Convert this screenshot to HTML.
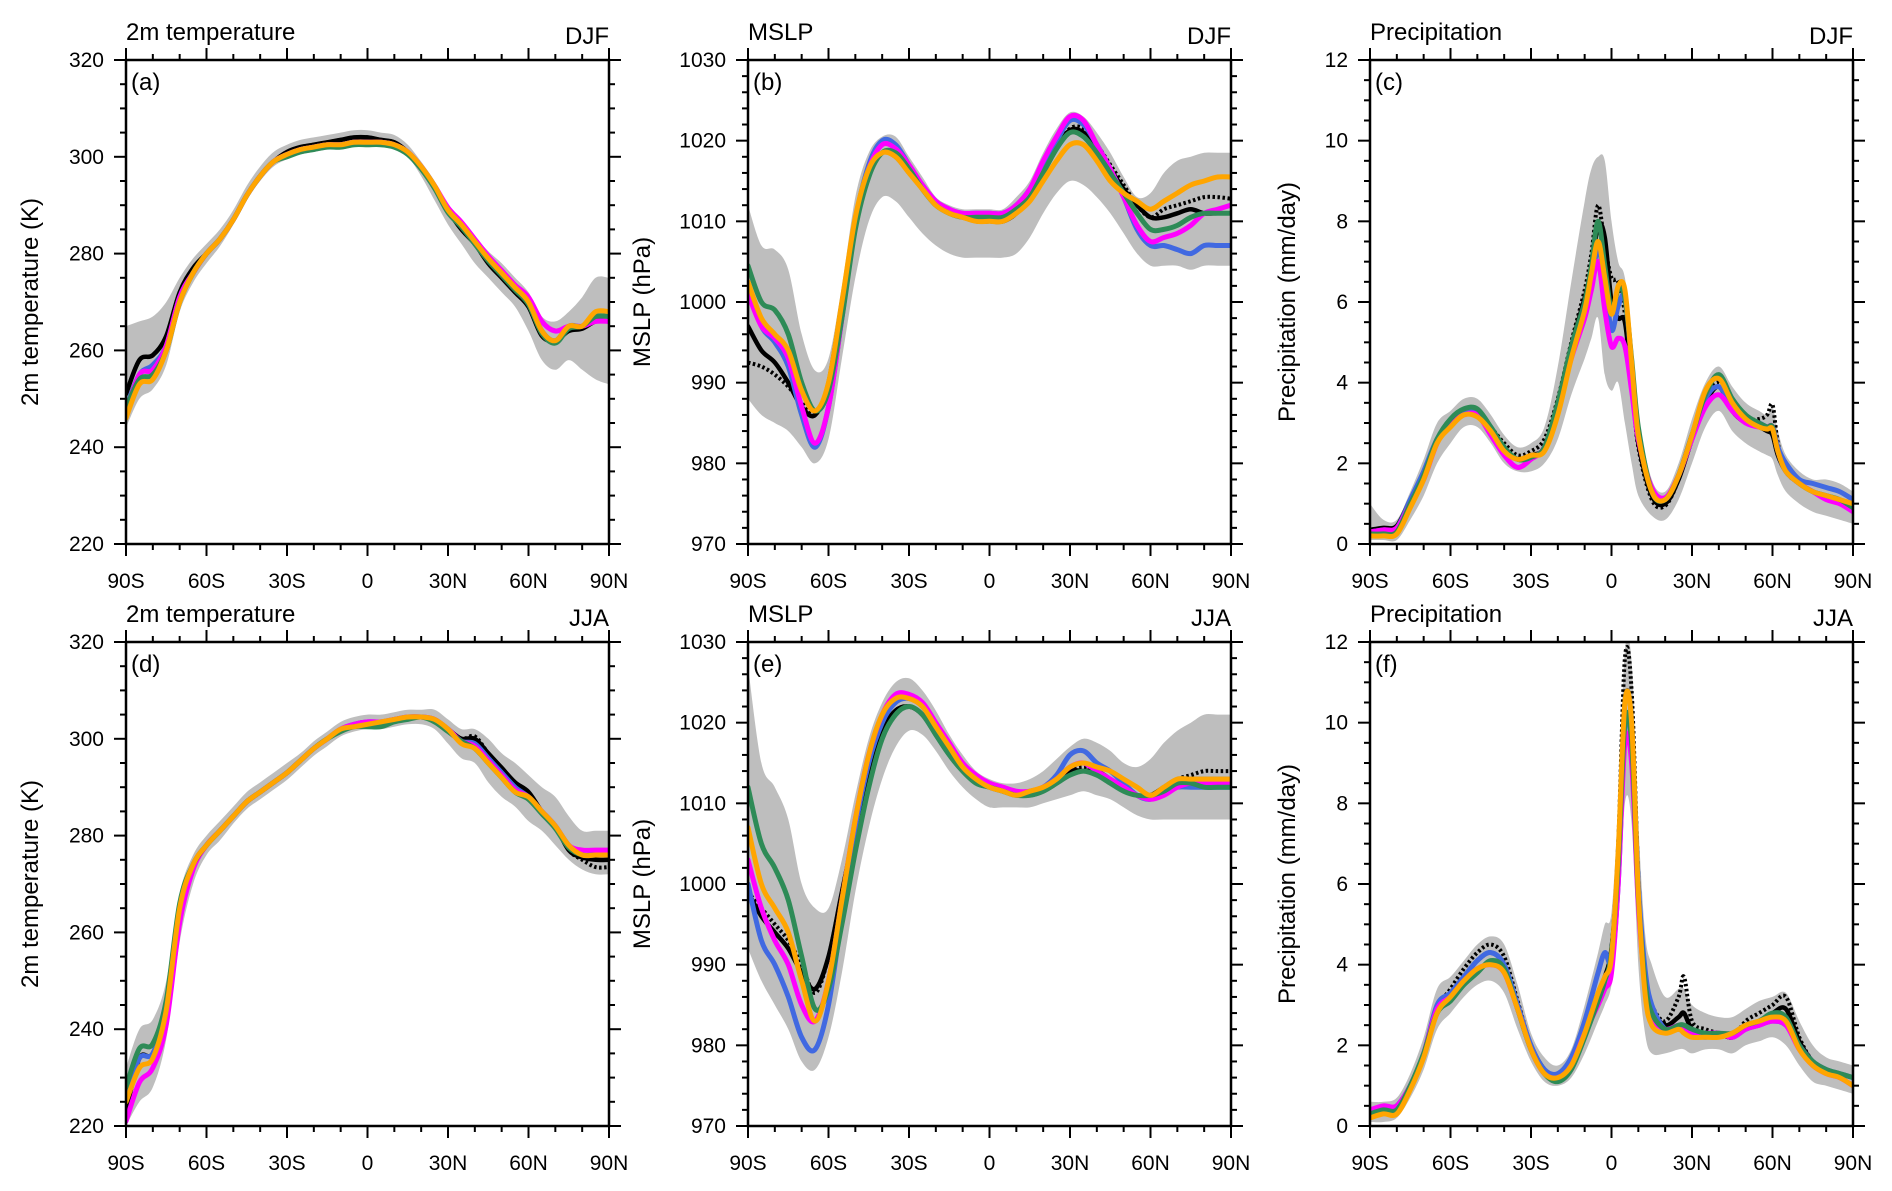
<!DOCTYPE html>
<html><head><meta charset="utf-8">
<style>
html,body{margin:0;padding:0;background:#fff;}
svg{display:block;font-family:"Liberation Sans",Arial,sans-serif;}
</style></head>
<body>
<svg id="fig" width="1892" height="1191" viewBox="0 0 1892 1191" xmlns="http://www.w3.org/2000/svg"></svg>
<script>
// ---------- DATA ----------
const latStd = [-90,-85,-80,-75,-70,-65,-60,-55,-50,-45,-40,-35,-30,-25,-20,-15,-10,-5,0,5,10,15,20,25,30,35,40,45,50,55,60,65,70,75,80,85,90];
const latPrDJF = [-90,-85,-80,-75,-70,-65,-60,-55,-50,-45,-40,-35,-30,-25,-20,-15,-10,-7.5,-5,-2.5,0,2.5,5,7.5,10,15,20,25,30,35,40,45,50,55,58,60,62,65,70,75,80,85,90];
const latPrJJA = [-90,-85,-80,-75,-70,-65,-60,-55,-50,-45,-40,-35,-30,-25,-20,-15,-10,-5,-2.5,0,2.5,5,7.5,10,12.5,15,20,25,27,30,35,40,45,50,55,60,65,70,75,80,85,90];
const xTickLabels = ["90S","60S","30S","0","30N","60N","90N"];
const xTickValues = [-90,-60,-30,0,30,60,90];

// (a) T2m DJF
const aBandHi = [265,266,267,270,275,279,282,285,289,294,298,301,302.5,303.5,304,304.5,305,305.5,305.5,305,304.5,302.5,299,295,290,286.5,283.5,280.5,278,275,272,267,266,268,271,275,275];
const aBandLo = [244,250,252,257,268,274,278,281.5,286,291,295,298,299.5,300.5,301,301.5,301.5,302,302,302,301.5,300,296,291,286,282,278,275,272,269,264,258,256,258,256,254,253];
const aObs = [251,258,259,263,272,277,280,283,287,292,296,299,301,302,302.5,303,303.5,304,304,303.5,303,301,298,294,289,285,282,278,275,272,269,263,262,264,264.5,266,266];
const aBlack = [251,258,259,263,272,277,280,283,287,292,296,299,301,302,302.5,303,303.5,304,304,303.5,303,301,298,294,289,285,282,278,275,272,269,263,262,264,264.5,266,266];
const aBlue = [248,255,257,261,271,276,280,283,287,292,296,299,300.5,301.5,302,302.5,302.5,303,303,303,302.5,301,298,294,289,286,282.5,279,276,273,270,264,262,265,265,267,267];
const aMagenta = [247,255,256,261,271,276,280,283,287,292,296,299,300.5,301.5,302,302.5,302.5,303,303,303,302.5,301,298,294,289.5,286.5,283,279.5,276.5,273.5,271,266,264,265,265,266,266];
const aGreen = [248,254,255,260,270,276,280,283,287,292,296,299,300,301,301.5,302,302,302.5,302.5,302.5,302,300.5,297.5,293.5,288.5,285.5,282,278.5,275.5,272.5,269.5,263.5,261.5,264.5,265,267,267];
const aOrange = [246,253,254,260,270,276,280,283,287,292,296,299,300.5,301.5,302,302.5,302.5,303,303,303,302.5,301,298,294,289,286,282.5,279,276,273,270,264,262,265,265,268,268];

// (d) T2m JJA
const dBandHi = [232,240,242,250,268,276,280,283,286,289,291,293,295,297,299.5,301.5,303.5,304.5,305,305,305.5,306,306,306,304,302,302,300,297,295,292.5,290,288,284,281,281,281];
const dBandLo = [220,225,228,238,258,270,276,279,282.5,285.5,287.5,289.5,291.5,294,296.5,298.5,300.5,301.5,302,302,302.5,303,303,302,299,296,295,291,288,286,283,281,278,275,273,272,272];
const dObs = [223,234,235,245,265,274,278,281,284,287,289,291,293,295.5,298,300,302,303,303.5,303.5,304,304.5,304.5,304,302,300,300.5,297,294,291,289,285,282,277,275,273.5,273.5];
const dBlack = [223,234,235,245,265,274,278,281,284,287,289,291,293,295.5,298,300,302,303,303.5,303.5,304,304.5,304.5,304,302,300,300,297,294,291,289,285,282,277,275.5,275,275];
const dBlue = [226,234,235,244,265,274,278,281,284,287,289,291,293,295.5,298,300,302,303,303.5,303.5,304,304.5,304.5,304,302,299.5,299,296,293,290,288,285,282,278,276,276,276];
const dMagenta = [221,229,232,241,262,273,278,281,284,287,289,291,293,295.5,298,300,302,303,303.5,303.5,304,304.5,304.5,304,302,299.5,298.5,295.5,292.5,289.5,288,285,282,278,277,277,277];
const dGreen = [228,236,237,246,266,274,278,281,284,287,289,291,293,295.5,298,300,301.5,302.5,302.5,302.5,303.5,304,304.5,303.5,301.5,299.5,298,295,292,289,287.5,284.5,281.5,277.5,276,276,276];
const dOrange = [225,232,234,244,265,274,278,281,284,287,289,291,293,295.5,298,300,302,302.5,303,303.5,304,304.5,304.5,304,302,299,298,295,292,289,288,285,282,278,276,276,276];

// (b) MSLP DJF
const bBandHi = [1012,1007,1006.5,1004,996,991.5,993,1002,1013,1018.5,1020.5,1020.5,1018,1015.5,1013,1012,1011.5,1011.5,1011.5,1011.5,1013,1015,1018.5,1021.5,1023.5,1023,1021,1018.5,1015.5,1013,1013.5,1016,1017.5,1018,1018.5,1018.5,1018.5];
const bBandLo = [988,986,985,984,982,980,983,993,1003,1010,1013,1012.5,1010.5,1008.5,1007,1006,1005.5,1005.5,1005.5,1005.5,1006,1008,1011,1013.5,1015,1014.5,1013,1011,1008.5,1006,1004.5,1004.5,1004.5,1004,1004.5,1004.5,1004.5];
const bObs = [992.5,992,991,989.5,987.5,986,990,1000,1010,1016,1018.5,1018,1016,1014,1012,1011,1010.5,1010,1010,1010,1011,1013,1016,1019,1021.5,1021.5,1019.5,1017,1014.5,1012,1010.5,1011.5,1012,1012.5,1013,1013,1012.8];
const bBlack = [997,994,992.5,990,987,986,990,1000,1010,1016,1018.5,1018,1016,1014,1012,1011,1010.5,1010,1010,1010,1011,1013,1016,1019,1021.3,1021,1019,1016.5,1014,1012,1010.5,1010.5,1011,1011.5,1011,1011,1011];
const bBlue = [1002,997,995,992,986,982,987,998,1010,1017,1020,1019.5,1017,1014.5,1012.5,1011.5,1011,1011,1011,1011,1012,1014,1017,1020,1022.5,1022,1019.5,1016.5,1013,1009,1007,1007,1006.5,1006,1007,1007,1007];
const bMagenta = [1001,997,995.5,993,987,982.5,987,998,1010,1016.5,1019.5,1019,1017,1014.5,1012.5,1011.5,1011,1011,1011,1011,1012,1014,1017.5,1020.5,1023,1022.5,1019.5,1016.5,1013,1009.5,1007.5,1008,1008.5,1009.5,1011,1011.5,1012];
const bGreen = [1004.5,1000,999,996,990,986.5,989,998,1009,1015.5,1018.5,1018.5,1016.5,1014,1012,1011,1010.5,1010.5,1010.5,1010.5,1011.5,1013,1016,1019,1021,1020.5,1018.5,1016,1013.5,1011,1009,1009,1009.5,1010.5,1011,1011,1011];
const bOrange = [1002.5,998,996,994,989,986.5,990,1000,1010.5,1016.5,1018.5,1018,1016,1014,1012,1011,1010.5,1010,1010,1010,1011,1012.5,1015,1017.5,1019.5,1019.5,1017.5,1015,1013.5,1012.5,1011.5,1012.5,1013.5,1014.5,1015,1015.5,1015.5];

// (e) MSLP JJA
const eBandHi = [1027,1015,1012,1008,1000,997,997,1003,1011,1018,1022.5,1025,1025.5,1024,1021.5,1018.5,1016,1014,1013,1012.5,1012.5,1013,1014,1015.5,1017,1018,1017.5,1016.5,1015,1014.5,1015.5,1017.5,1019,1020,1021,1021,1021];
const eBandLo = [992,988,985,982,978,977,981,989,999,1007,1013,1017,1019,1018.5,1016.5,1014,1012,1010.5,1009.5,1009.5,1009.5,1009.5,1010,1010.5,1011,1011.5,1011,1010.5,1009.5,1008.5,1008,1008,1008,1008,1008,1008,1008];
const eObs = [999,997,995,993,990,986.5,991,999,1007,1014,1019,1021.5,1022,1021,1018.5,1016,1014,1012.5,1012,1011.5,1011,1011,1011.5,1012.5,1014,1014.5,1014,1013,1012,1011,1011,1012,1013,1013.5,1014,1014,1014];
const eBlack = [999,996,994,992,989,987,991,999,1007,1014,1019,1021.5,1022,1021,1018.5,1016,1014,1012.5,1012,1011.5,1011,1011,1011.5,1012.5,1014,1014,1014,1013,1012,1011,1011,1012,1013,1013,1013,1013,1013];
const eBlue = [1000,993,990,986,981,979.5,985,996,1007,1015,1020,1022.5,1023,1022,1019.5,1017,1014.5,1013,1012,1011.5,1011,1011.5,1012,1013.5,1016,1016.5,1015,1014,1012.5,1011,1010.5,1011.5,1012,1012,1012,1012,1012];
const eMagenta = [1003,997,993,990,985,983,988,998,1008,1016,1021,1023.5,1023.5,1022.5,1020,1017.5,1015,1013.5,1012.5,1012,1011.5,1011.5,1012,1013,1014.5,1015,1014,1013,1012,1011,1010.5,1011,1012,1012.5,1012.5,1012.5,1012.5];
const eGreen = [1012,1005,1002,998,991,984.5,987,995,1004,1012,1018,1021,1022,1021,1018.5,1016,1014,1012.5,1012,1011.5,1011,1011,1011.5,1012.5,1013.5,1014,1013.5,1012.5,1011.5,1011,1011,1011.5,1012.5,1012.5,1012,1012,1012];
const eOrange = [1007,1000,997,994,988,983,988,998,1008,1016,1021,1023,1023,1022,1019.5,1017,1014.5,1013,1012,1011.5,1011,1011.5,1012,1013,1014.5,1015,1014.5,1014,1013,1012,1011,1012,1013,1013,1013,1013,1013];

// (c) Precip DJF
const cBandHi = [1.0,0.6,0.6,1.3,2.1,3.0,3.3,3.6,3.6,3.2,2.7,2.4,2.5,2.9,4.4,6.5,8.5,9.3,9.6,9.5,8.0,7.0,6.6,5.0,3.2,1.6,1.3,2.0,3.1,4.0,4.4,3.9,3.5,3.3,3.2,3.4,2.8,2.2,1.8,1.6,1.6,1.5,1.3];
const cBandLo = [0.1,0.1,0.1,0.6,1.2,2.0,2.5,2.9,2.9,2.5,2.0,1.8,1.8,2.0,2.6,3.7,4.6,5.1,5.6,4.2,3.8,4.0,3.0,2.0,1.2,0.7,0.6,1.1,2.0,2.9,3.3,2.8,2.5,2.3,2.2,2.1,1.7,1.3,1.0,0.8,0.7,0.6,0.5];
const cObs = [0.3,0.35,0.45,1.1,1.7,2.6,3.0,3.35,3.3,2.9,2.5,2.2,2.3,2.6,3.6,5.0,6.3,7.2,8.4,7.4,6.6,6.5,5.7,4.0,2.4,1.1,0.95,1.6,2.7,3.6,4.0,3.4,3.1,3.1,3.2,3.45,2.5,1.8,1.5,1.3,1.2,1.1,1.0];
const cBlack = [0.35,0.4,0.45,1.1,1.7,2.6,3.0,3.3,3.3,2.9,2.4,2.1,2.2,2.4,3.5,4.9,6.1,6.8,7.9,7.6,6.0,5.6,5.5,4.0,2.5,1.2,1.0,1.6,2.6,3.5,3.9,3.3,3.0,2.9,2.8,2.7,2.2,1.8,1.5,1.3,1.2,1.1,1.0];
const cBlue = [0.3,0.35,0.4,1.1,1.8,2.6,3.0,3.3,3.3,2.8,2.3,2.1,2.15,2.4,3.4,4.7,5.8,6.5,7.3,6.5,5.3,5.9,6.1,4.5,2.8,1.3,1.1,1.7,2.7,3.6,3.9,3.4,3.1,3.0,2.9,2.9,2.4,2.0,1.6,1.5,1.4,1.3,1.1];
const cMagenta = [0.3,0.35,0.4,1.0,1.6,2.5,3.0,3.2,3.2,2.7,2.2,1.9,2.1,2.4,3.4,4.6,5.6,6.3,7.0,5.8,4.9,5.1,4.9,3.8,2.6,1.4,1.15,1.7,2.6,3.4,3.7,3.3,3.0,2.9,2.9,2.9,2.3,1.8,1.5,1.3,1.1,1.0,0.8];
const cGreen = [0.25,0.25,0.3,1.0,1.7,2.6,3.1,3.35,3.35,2.9,2.4,2.1,2.15,2.4,3.5,4.9,6.0,6.9,8.0,6.9,5.8,6.3,6.1,4.6,2.9,1.3,1.1,1.7,2.7,3.7,4.2,3.6,3.2,3.0,2.9,2.9,2.3,1.8,1.5,1.3,1.2,1.1,0.9];
const cOrange = [0.2,0.2,0.25,0.9,1.6,2.5,2.9,3.2,3.15,2.8,2.3,2.1,2.2,2.3,3.2,4.6,5.8,6.7,7.5,6.6,5.7,6.4,6.3,4.5,2.7,1.3,1.1,1.7,2.7,3.8,4.1,3.5,3.1,2.9,2.85,2.85,2.3,1.8,1.5,1.3,1.2,1.1,1.0];

// (f) Precip JJA
const fBandHi = [0.6,0.6,0.7,1.3,2.2,3.4,3.7,4.1,4.5,4.7,4.5,3.5,2.3,1.7,1.5,1.9,3.0,4.3,5.0,5.3,8.0,11.8,11.5,7.5,4.8,4.0,3.2,3.4,3.4,3.0,2.8,2.7,2.7,2.9,3.1,3.2,3.3,2.6,2.0,1.7,1.6,1.5];
const fBandLo = [0.1,0.1,0.2,0.7,1.4,2.4,2.8,3.2,3.5,3.6,3.3,2.4,1.6,1.1,1.0,1.2,1.8,2.6,3.0,3.5,5.0,8.0,7.5,4.0,2.3,1.8,1.8,1.9,1.9,1.8,1.9,1.9,1.8,2.0,2.1,2.2,2.0,1.5,1.1,1.0,0.9,0.8];
const fObs = [0.3,0.4,0.5,1.0,1.8,2.9,3.4,3.9,4.3,4.5,4.2,3.1,2.0,1.4,1.2,1.5,2.3,3.3,3.7,4.4,7.0,11.6,10.8,6.2,3.7,3.0,2.6,3.2,3.7,2.6,2.4,2.3,2.2,2.6,2.8,3.0,3.2,2.2,1.6,1.4,1.3,1.2];
const fBlack = [0.3,0.4,0.5,1.0,1.8,2.9,3.3,3.7,4.1,4.3,4.0,3.0,2.0,1.4,1.2,1.5,2.3,3.3,3.7,4.4,6.5,10.5,10.0,6.0,3.7,2.9,2.5,2.7,2.8,2.4,2.3,2.3,2.2,2.5,2.6,2.8,2.9,2.1,1.6,1.4,1.3,1.2];
const fBlue = [0.4,0.4,0.5,1.0,1.8,3.0,3.3,3.7,4.1,4.3,4.0,3.0,2.0,1.4,1.3,1.7,2.6,3.8,4.3,4.1,6.0,9.8,9.6,6.0,3.9,3.0,2.4,2.4,2.4,2.3,2.2,2.3,2.2,2.4,2.5,2.6,2.5,2.0,1.6,1.4,1.3,1.2];
const fMagenta = [0.4,0.5,0.5,1.0,1.8,2.9,3.2,3.6,3.9,4.0,3.8,2.9,1.9,1.3,1.2,1.5,2.3,3.0,3.4,3.8,6.0,9.5,9.0,5.5,3.5,2.7,2.4,2.5,2.4,2.3,2.3,2.3,2.2,2.4,2.5,2.6,2.5,1.9,1.5,1.3,1.2,1.0];
const fGreen = [0.3,0.4,0.4,1.0,1.8,2.8,3.1,3.5,3.8,4.1,3.9,2.9,1.9,1.3,1.1,1.4,2.2,3.1,3.6,4.3,6.5,10.0,9.5,5.7,3.6,2.8,2.4,2.5,2.5,2.4,2.3,2.3,2.3,2.5,2.6,2.8,2.7,2.0,1.6,1.4,1.3,1.2];
const fOrange = [0.2,0.3,0.3,0.9,1.7,2.8,3.2,3.6,3.9,4.0,3.8,2.9,1.9,1.3,1.2,1.5,2.3,3.3,3.7,4.2,6.8,10.5,10.0,5.8,3.3,2.5,2.3,2.4,2.3,2.2,2.2,2.2,2.3,2.5,2.6,2.7,2.6,1.9,1.5,1.3,1.2,1.0];

// ---------- DRAWING ----------
const NS = "http://www.w3.org/2000/svg";
const svg = document.getElementById("fig");
function el(tag, attrs, parent) {
  const e = document.createElementNS(NS, tag);
  for (const k in attrs) e.setAttribute(k, attrs[k]);
  (parent || svg).appendChild(e);
  return e;
}
function smoothPath(pts) {
  let d = "M" + pts[0][0].toFixed(1) + "," + pts[0][1].toFixed(1);
  for (let i = 0; i < pts.length - 1; i++) {
    const p0 = pts[i - 1] || pts[i], p1 = pts[i], p2 = pts[i + 1], p3 = pts[i + 2] || p2;
    const c1x = p1[0] + (p2[0] - p0[0]) / 6, c1y = p1[1] + (p2[1] - p0[1]) / 6;
    const c2x = p2[0] - (p3[0] - p1[0]) / 6, c2y = p2[1] - (p3[1] - p1[1]) / 6;
    d += "C" + c1x.toFixed(1) + "," + c1y.toFixed(1) + " " + c2x.toFixed(1) + "," + c2y.toFixed(1) + " " + p2[0].toFixed(1) + "," + p2[1].toFixed(1);
  }
  return d;
}

const panels = [
  {id:"a", L:126, T:60, yoff:88, title:"2m temperature", season:"DJF", ylab:"2m temperature (K)", ymin:220, ymax:320, major:20, minor:5, ticks:[220,240,260,280,300,320], lat:latStd, hi:aBandHi, lo:aBandLo, obs:aObs, s:[aBlack,aBlue,aMagenta,aGreen,aOrange]},
  {id:"b", L:748, T:60, yoff:98, title:"MSLP", season:"DJF", ylab:"MSLP (hPa)", ymin:970, ymax:1030, major:10, minor:2, ticks:[970,980,990,1000,1010,1020,1030], lat:latStd, hi:bBandHi, lo:bBandLo, obs:bObs, s:[bBlack,bBlue,bMagenta,bGreen,bOrange]},
  {id:"c", L:1370, T:60, yoff:75, title:"Precipitation", season:"DJF", ylab:"Precipitation (mm/day)", ymin:0, ymax:12, major:2, minor:0.5, ticks:[0,2,4,6,8,10,12], lat:latPrDJF, hi:cBandHi, lo:cBandLo, obs:cObs, s:[cBlack,cBlue,cMagenta,cGreen,cOrange]},
  {id:"d", L:126, T:642, yoff:88, title:"2m temperature", season:"JJA", ylab:"2m temperature (K)", ymin:220, ymax:320, major:20, minor:5, ticks:[220,240,260,280,300,320], lat:latStd, hi:dBandHi, lo:dBandLo, obs:dObs, s:[dBlack,dBlue,dMagenta,dGreen,dOrange]},
  {id:"e", L:748, T:642, yoff:98, title:"MSLP", season:"JJA", ylab:"MSLP (hPa)", ymin:970, ymax:1030, major:10, minor:2, ticks:[970,980,990,1000,1010,1020,1030], lat:latStd, hi:eBandHi, lo:eBandLo, obs:eObs, s:[eBlack,eBlue,eMagenta,eGreen,eOrange]},
  {id:"f", L:1370, T:642, yoff:75, title:"Precipitation", season:"JJA", ylab:"Precipitation (mm/day)", ymin:0, ymax:12, major:2, minor:0.5, ticks:[0,2,4,6,8,10,12], lat:latPrJJA, hi:fBandHi, lo:fBandLo, obs:fObs, s:[fBlack,fBlue,fMagenta,fGreen,fOrange]}
];
const seriesColors = ["#000000","#4169e1","#ff00ff","#2e8b57","#ffa500"];
const seriesNames = ["model-black","model-blue","model-magenta","model-green","model-orange"];
const W = 483, H = 484;

panels.forEach(p => {
  const g = el("g", {});
  
  
  const R = p.L + W, B = p.T + H;
  const xs = v => p.L + (v + 90) / 180 * W;
  const ys = v => B - (v - p.ymin) / (p.ymax - p.ymin) * H;
  const clipId = "clip" + p.id;
  const cp = el("clipPath", {id: clipId}, g);
  el("rect", {x: p.L, y: p.T, width: W, height: H}, cp);
  const plot = el("g", {"clip-path": "url(#" + clipId + ")"}, g);

  const top = p.lat.map((v, i) => [xs(v), ys(p.hi[i])]);
  const bot = p.lat.map((v, i) => [xs(v), ys(p.lo[i])]).reverse();
  const bd = smoothPath(top) + "L" + smoothPath(bot).slice(1) + "Z";
  const band = el("path", {d: bd, fill: "#bebebe", stroke: "none"}, plot);
  
  

  const obsP = el("path", {d: smoothPath(p.lat.map((v, i) => [xs(v), ys(p.obs[i])])), fill: "none", stroke: "#000", "stroke-width": 4, "stroke-dasharray": "2.5,2.5"}, plot);
  
  

  p.s.forEach((arr, k) => {
    const ln = el("path", {d: smoothPath(p.lat.map((v, i) => [xs(v), ys(arr[i])])), fill: "none", stroke: seriesColors[k], "stroke-width": k === 0 ? 4.5 : 5, "stroke-linejoin": "round", "stroke-linecap": "round"}, plot);
    
    
  });

  el("rect", {x: p.L, y: p.T, width: W, height: H, fill: "none", stroke: "#000", "stroke-width": 2.5}, g);

  for (let v = -90; v <= 90; v += 10) {
    const isMaj = v % 30 === 0, len = isMaj ? 12 : 6, x = xs(v);
    el("line", {x1: x, y1: B, x2: x, y2: B + len, stroke: "#000", "stroke-width": 2}, g);
    el("line", {x1: x, y1: p.T, x2: x, y2: p.T - len, stroke: "#000", "stroke-width": 2}, g);
  }
  xTickValues.forEach((v, i) => {
    const t = el("text", {x: xs(v), y: B + 44, "font-size": 21, "text-anchor": "middle", fill: "#000"}, g);
    t.textContent = xTickLabels[i];
    
    
  });
  const nMin = Math.round((p.ymax - p.ymin) / p.minor);
  for (let i = 0; i <= nMin; i++) {
    const v = p.ymin + i * p.minor;
    const isMaj = Math.abs(((v - p.ymin) / p.major) - Math.round((v - p.ymin) / p.major)) < 1e-6;
    const len = isMaj ? 12 : 6, y = ys(v);
    el("line", {x1: p.L, y1: y, x2: p.L - len, y2: y, stroke: "#000", "stroke-width": 2}, g);
    el("line", {x1: R, y1: y, x2: R + len, y2: y, stroke: "#000", "stroke-width": 2}, g);
  }
  p.ticks.forEach(v => {
    const t = el("text", {x: p.L - 22, y: ys(v) + 7, "font-size": 21, "text-anchor": "end", fill: "#000"}, g);
    t.textContent = String(v);
    
    
  });
  const tt = el("text", {x: p.L, y: p.T - 20, "font-size": 24, fill: "#000"}, g);
  tt.textContent = p.title;
  
  
  const ts = el("text", {x: R, y: p.T - 16, "font-size": 24, "text-anchor": "end", fill: "#000"}, g);
  ts.textContent = p.season;
  
  
  const tl = el("text", {x: p.L + 5, y: p.T + 30, "font-size": 24, fill: "#000"}, g);
  tl.textContent = "(" + p.id + ")";
  
  
  const yx = p.L - p.yoff, yc = p.T + H / 2;
  const ya = el("text", {x: yx, y: yc, "font-size": 24, "text-anchor": "middle", fill: "#000", transform: "rotate(-90 " + yx + " " + yc + ")"}, g);
  ya.textContent = p.ylab;
  
  
});
</script>
</body></html>
